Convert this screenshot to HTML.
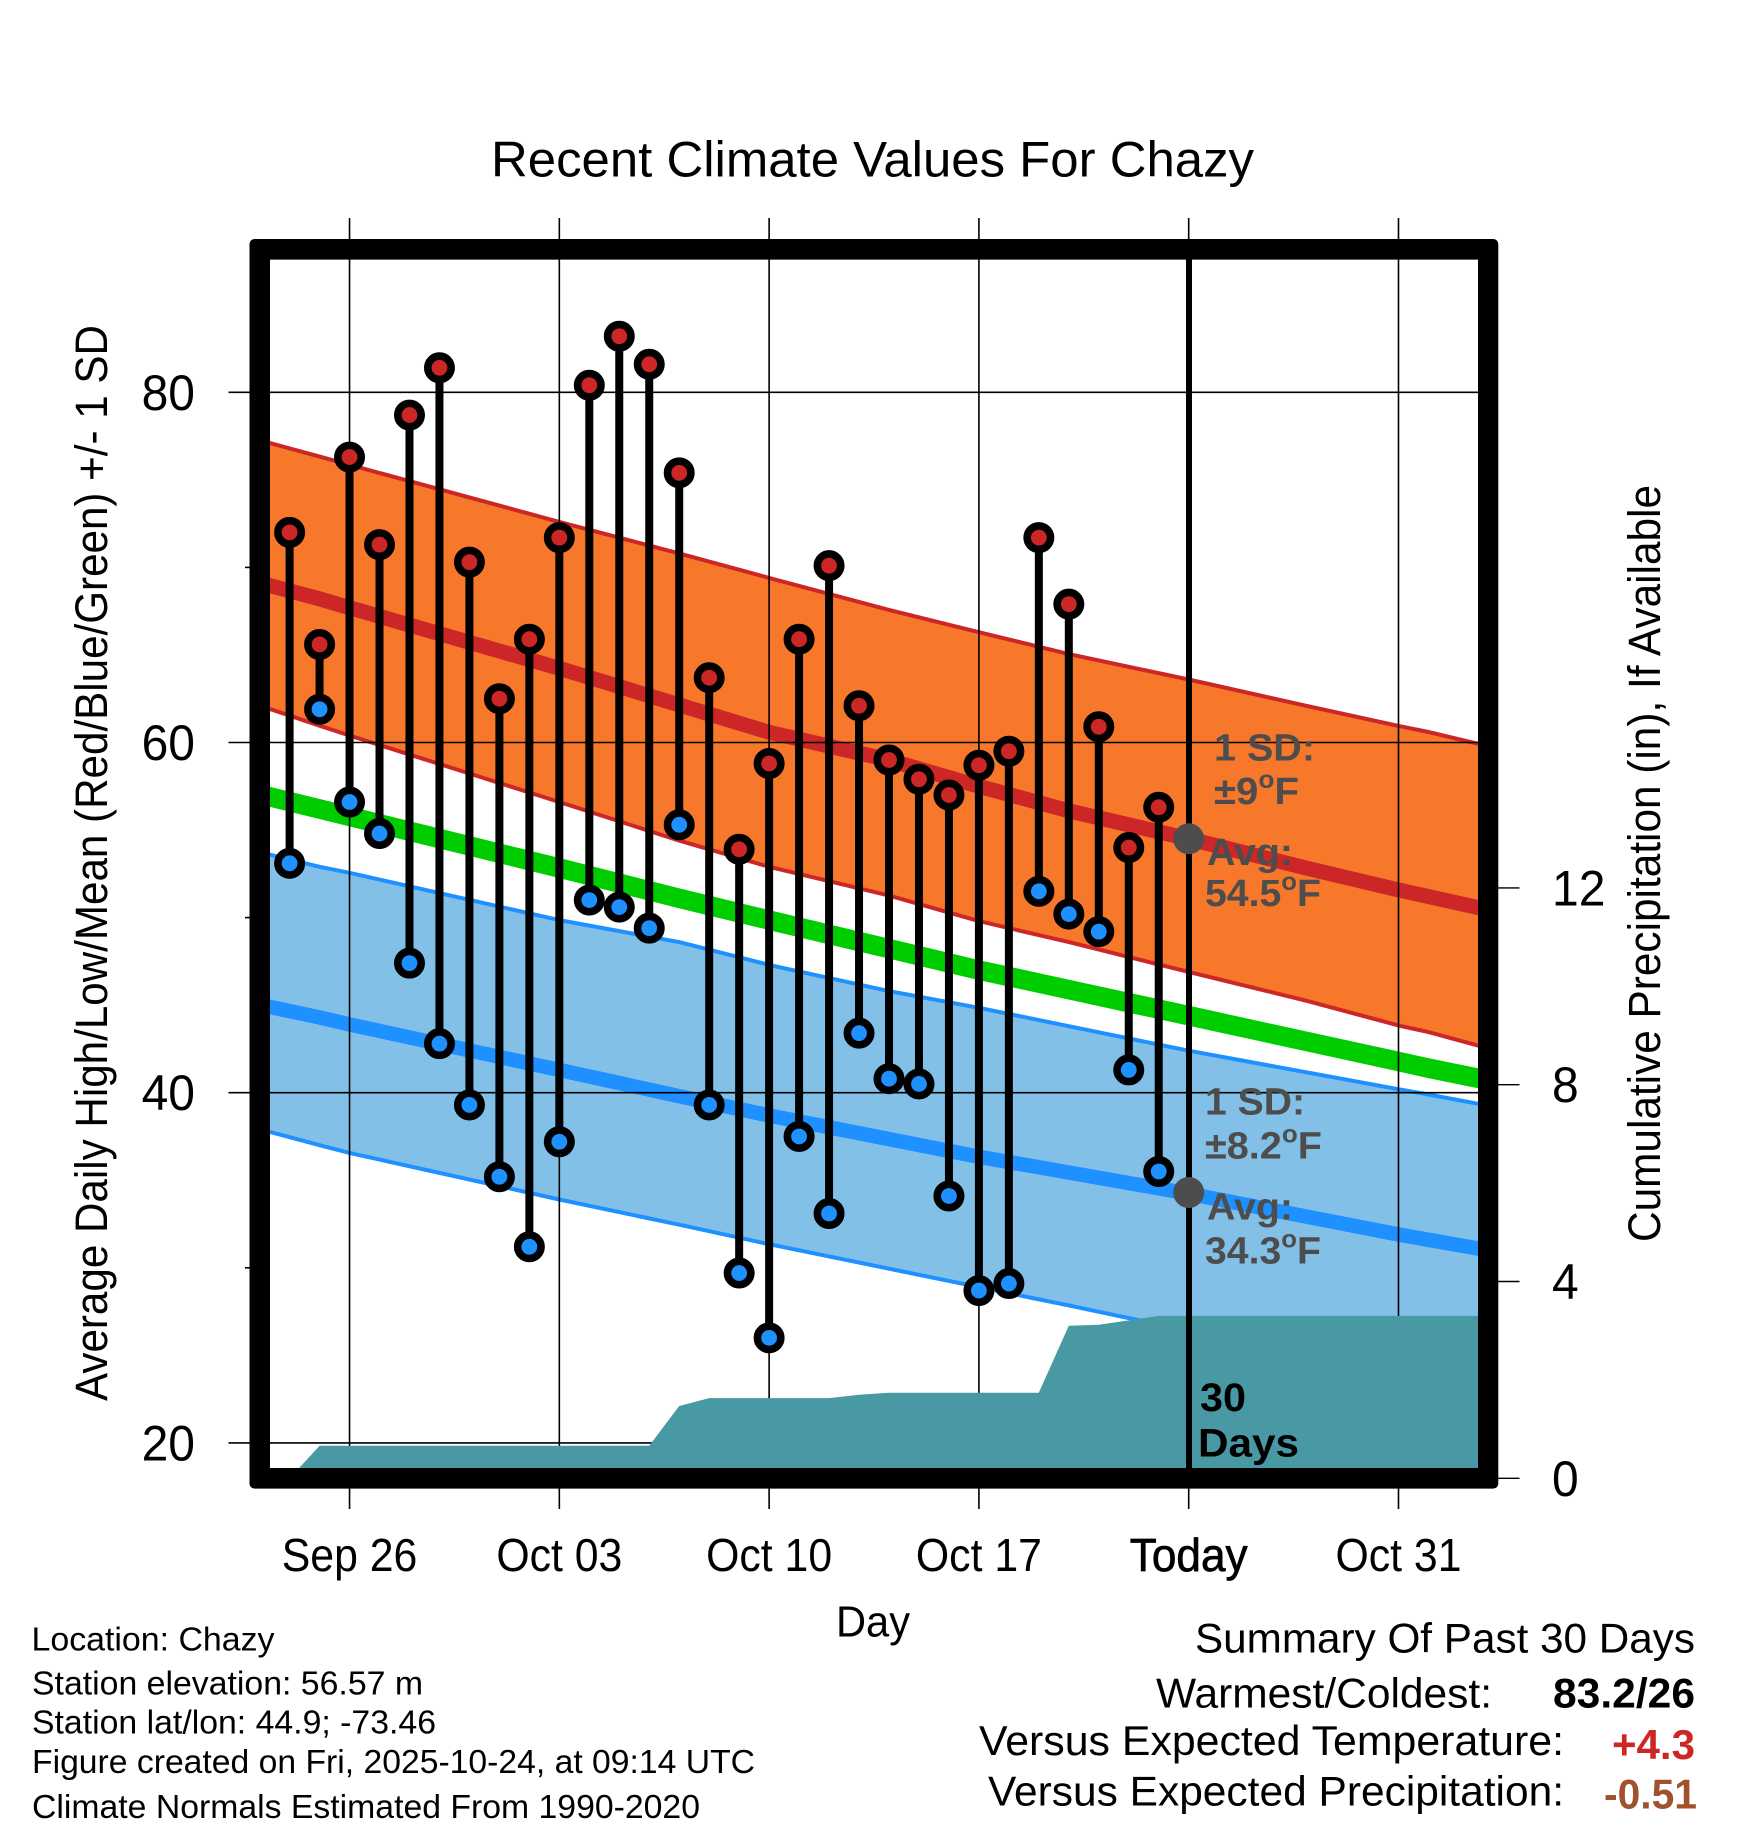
<!DOCTYPE html>
<html lang="en">
<head>
<meta charset="utf-8">
<title>Recent Climate Values For Chazy</title>
<style>
html,body{margin:0;padding:0;background:#fff;}
svg{display:block;font-family:"Liberation Sans",sans-serif;}
text{fill:#000;}
.g{font-weight:bold;font-size:38px;fill:#4d4d4d;}
.m{font-size:33.5px;}
.s{font-size:42px;}
</style>
</head>
<body>
<svg id="chart" xmlns="http://www.w3.org/2000/svg" width="1748" height="1828" viewBox="0 0 1748 1828">
  <defs><clipPath id="plot-clip"><rect x="270" y="259.5" width="1208" height="1208.5"/></clipPath></defs>
  <rect width="1748" height="1828" fill="#fff"/>
  <g id="bands" clip-path="url(#plot-clip)"></g>
  <g id="grid"></g>
  <g id="precip" clip-path="url(#plot-clip)"></g>
  <rect x="1186" y="250" width="6" height="1228" fill="#000"/>
  <g id="labels-inside">
    <text class="g" x="1214" y="760.7" textLength="101" lengthAdjust="spacingAndGlyphs">1 SD:</text>
    <text class="g" x="1214" y="804" textLength="85" lengthAdjust="spacingAndGlyphs">±9<tspan font-size="25" dy="-16">o</tspan><tspan dy="16">F</tspan></text>
    <text class="g" x="1207" y="865" textLength="86" lengthAdjust="spacingAndGlyphs">Avg:</text>
    <text class="g" x="1205" y="906" textLength="116" lengthAdjust="spacingAndGlyphs">54.5<tspan font-size="25" dy="-16">o</tspan><tspan dy="16">F</tspan></text>
    <text class="g" x="1205" y="1114.3" textLength="100" lengthAdjust="spacingAndGlyphs">1 SD:</text>
    <text class="g" x="1205" y="1158.7" textLength="117" lengthAdjust="spacingAndGlyphs">±8.2<tspan font-size="25" dy="-16">o</tspan><tspan dy="16">F</tspan></text>
    <text class="g" x="1207" y="1219.6" textLength="86" lengthAdjust="spacingAndGlyphs">Avg:</text>
    <text class="g" x="1205" y="1263.6" textLength="116" lengthAdjust="spacingAndGlyphs">34.3<tspan font-size="25" dy="-16">o</tspan><tspan dy="16">F</tspan></text>
    <text x="1200" y="1411" font-size="40" font-weight="bold" textLength="46" lengthAdjust="spacingAndGlyphs">30</text>
    <text x="1198" y="1456.5" font-size="40" font-weight="bold" textLength="101" lengthAdjust="spacingAndGlyphs">Days</text>
  </g>
  <g id="marks"></g>
  <path fill="#000" fill-rule="evenodd" d="M254.5 239H1493.3A5 5 0 0 1 1498.3 244V1483.6A5 5 0 0 1 1493.3 1488.6H254.5A5 5 0 0 1 249.5 1483.6V244A5 5 0 0 1 254.5 239ZM270 259.6V1468H1478V259.6Z"/>
  <g id="tick-labels"></g>

  <text x="491" y="176.5" font-size="50" textLength="763" lengthAdjust="spacingAndGlyphs">Recent Climate Values For Chazy</text>
  <text transform="translate(107,1401) rotate(-90)" font-size="45" textLength="1076" lengthAdjust="spacingAndGlyphs">Average Daily High/Low/Mean (Red/Blue/Green) +/- 1 SD</text>
  <text transform="translate(1660,1242) rotate(-90)" font-size="45" textLength="757" lengthAdjust="spacingAndGlyphs">Cumulative Precipitation (in), If Available</text>
  <text x="836" y="1636.7" font-size="44" textLength="74" lengthAdjust="spacingAndGlyphs">Day</text>

  <text class="m" x="31.5" y="1650.7" textLength="243" lengthAdjust="spacingAndGlyphs">Location: Chazy</text>
  <text class="m" x="32" y="1694.5" textLength="391" lengthAdjust="spacingAndGlyphs">Station elevation: 56.57 m</text>
  <text class="m" x="32" y="1733.5" textLength="404" lengthAdjust="spacingAndGlyphs">Station lat/lon: 44.9; -73.46</text>
  <text class="m" x="32" y="1773" textLength="723" lengthAdjust="spacingAndGlyphs">Figure created on Fri, 2025-10-24, at 09:14 UTC</text>
  <text class="m" x="32" y="1818" textLength="668" lengthAdjust="spacingAndGlyphs">Climate Normals Estimated From 1990-2020</text>

  <text class="s" x="1195" y="1652.7" textLength="500" lengthAdjust="spacingAndGlyphs">Summary Of Past 30 Days</text>
  <text class="s" x="1156" y="1707.7" textLength="336" lengthAdjust="spacingAndGlyphs">Warmest/Coldest:</text>
  <text class="s" x="1553" y="1707.7" font-weight="bold" textLength="142" lengthAdjust="spacingAndGlyphs">83.2/26</text>
  <text class="s" x="979" y="1755" textLength="585" lengthAdjust="spacingAndGlyphs">Versus Expected Temperature:</text>
  <text class="s" x="1612" y="1759" font-weight="bold" style="fill:#cd2626" textLength="83" lengthAdjust="spacingAndGlyphs">+4.3</text>
  <text class="s" x="988" y="1805.5" textLength="576" lengthAdjust="spacingAndGlyphs">Versus Expected Precipitation:</text>
  <text class="s" x="1604" y="1808.5" font-weight="bold" style="fill:#a0522d" textLength="93" lengthAdjust="spacingAndGlyphs">-0.51</text>
</svg>
<script>
// ---- data: day offsets count from Sep 24 (day 0) ----
const dailyHigh = [72.0,65.6,76.3,71.3,78.7,81.4,70.3,62.5,65.9,71.7,80.4,83.2,81.6,75.4,63.7,53.9,58.8,65.9,70.1,62.1,59.0,57.9,57.0,58.7,59.5,71.7,67.9,60.9,54.0,56.3];
const dailyLow = [53.1,61.9,56.6,54.8,47.4,42.8,39.3,35.2,31.2,37.2,51.0,50.6,49.4,55.3,39.3,29.7,26.0,37.5,33.1,43.4,40.8,40.5,34.1,28.7,29.1,51.5,50.2,49.2,41.3,35.5];
const precipCumulative = [0,0.66,0.66,0.66,0.66,0.66,0.66,0.66,0.66,0.66,0.66,0.66,0.66,1.47,1.63,1.63,1.63,1.63,1.63,1.70,1.74,1.74,1.74,1.74,1.74,1.74,3.10,3.12,3.21,3.30];
const normalDays = [-1.5,1,2,9,13,16,20,23,26,30,34,37,38,40.5];
const highPlusSD = [77.5,76.33,75.86,72.6,70.8,69.4,67.57,66.3,65.05,63.6,62.07,60.95,60.6,59.58];
const highNormal = [69.35,68.2,67.7,64.24,62.15,60.58,59.0,57.5,56.1,54.5,52.8,51.58,51.2,50.25];
const highMinusSD = [62.4,60.96,60.4,56.6,54.4,52.9,51.26,49.8,48.6,46.9,45.22,43.84,43.46,42.3];
const meanNormal = [57.25,56.2,55.78,52.83,51.1,49.86,48.23,47.0,45.89,44.4,42.9,41.78,41.4,40.53];
const lowPlusSD = [53.95,52.9,52.56,49.86,48.6,47.3,45.8,44.85,43.8,42.4,41.14,40.2,39.9,39.1];
const lowNormal = [45.2,44.3,43.9,41.3,39.8,38.7,37.35,36.34,35.44,34.24,32.9,31.9,31.6,30.85];
const lowMinusSD = [38.15,37.0,36.56,33.9,32.46,31.35,29.95,28.9,27.85,26.4,25.0,24.0,23.7,22.8];
const todayDay = 30;
const todayHighNormal = 54.5;
const todayLowNormal = 34.3;
const xTickDays = [2,9,16,23,30,37];
const xTickLabels = ['Sep 26','Oct 03','Oct 10','Oct 17','Today','Oct 31'];
const yMajorTicks = [80,60,40,20];
const yMinorTicks = [70,50,30];
const precipTicks = [0,4,8,12];

// ---- axis functions ----
const NS = 'http://www.w3.org/2000/svg';
const xScale = d => 289.6 + 29.97 * d;
const yScale = t => 392.3 + (80 - t) * 17.51;
const pScale = p => 1478.3 - 49.2 * p;
const mk = (parent, tag, attrs) => {
  const el = document.createElementNS(NS, tag);
  for (const k in attrs) el.setAttribute(k, attrs[k]);
  parent.appendChild(el);
  return el;
};
const pts = (days, vals) => days.map((d, i) => xScale(d).toFixed(1) + ',' + yScale(vals[i]).toFixed(1));
const bandsG = document.getElementById('bands');
const gridG = document.getElementById('grid');
const precipG = document.getElementById('precip');
const marksG = document.getElementById('marks');
const labelsG = document.getElementById('tick-labels');

// ---- bands ----
const upperBand = mk(bandsG, 'polygon', {points: pts(normalDays, highPlusSD).concat(pts(normalDays, highMinusSD).reverse()).join(' '), fill: '#f7772b'});


const lowerBand = mk(bandsG, 'polygon', {points: pts(normalDays, lowPlusSD).concat(pts(normalDays, lowMinusSD).reverse()).join(' '), fill: '#82c0e8'});


const lineSpecs = [
  ['high-plus-sd-line', highPlusSD, '#cd2626', 4],
  ['high-minus-sd-line', highMinusSD, '#cd2626', 4],
  ['low-plus-sd-line', lowPlusSD, '#1e90ff', 4],
  ['low-minus-sd-line', lowMinusSD, '#1e90ff', 4],
  ['high-normal-line', highNormal, '#cd2626', 15],
  ['low-normal-line', lowNormal, '#1e90ff', 14.5],
  ['mean-normal-line', meanNormal, '#00cd00', 19.5]
];
lineSpecs.forEach(spec => {
  const line = mk(bandsG, 'polyline', {points: pts(normalDays, spec[1]).join(' '), fill: 'none', stroke: spec[2], 'stroke-width': spec[3]});
  
  
});

// ---- grid and ticks ----
xTickDays.forEach(d => {
  const line = mk(gridG, 'line', {x1: xScale(d), x2: xScale(d), y1: 218, y2: 1509, stroke: '#000', 'stroke-width': 1.6});
  
  
});
yMajorTicks.forEach(t => {
  const line = mk(gridG, 'line', {x1: 228.5, x2: 1478, y1: yScale(t), y2: yScale(t), stroke: '#000', 'stroke-width': 1.6});
  
  
});
yMinorTicks.forEach(t => {
  const line = mk(gridG, 'line', {x1: 245, x2: 255, y1: yScale(t), y2: yScale(t), stroke: '#000', 'stroke-width': 1.6});
  
  
});
precipTicks.forEach(p => {
  const line = mk(gridG, 'line', {x1: 1495, x2: 1519.5, y1: pScale(p), y2: pScale(p), stroke: '#000', 'stroke-width': 1.4});
  
  
});

// ---- precipitation ----
const precipPoints = precipCumulative.map((p, i) => xScale(i).toFixed(1) + ',' + pScale(p).toFixed(1));
precipPoints.push(xScale(41).toFixed(1) + ',' + pScale(precipCumulative[precipCumulative.length - 1]).toFixed(1));
precipPoints.push(xScale(41).toFixed(1) + ',' + pScale(0).toFixed(1));
const precipArea = mk(precipG, 'polygon', {points: precipPoints.join(' '), fill: '#4899a3'});



// ---- today's normals ----
[todayHighNormal, todayLowNormal].forEach(t => {
  const dot = mk(marksG, 'circle', {cx: xScale(todayDay), cy: yScale(t), r: 15.5, fill: '#4d4d4d'});
  
  
});

// ---- daily high / low ----
dailyHigh.forEach((h, i) => {
  const stem = mk(marksG, 'line', {x1: xScale(i), x2: xScale(i), y1: yScale(h), y2: yScale(dailyLow[i]), stroke: '#000', 'stroke-width': 8});
  
  
  const hi = mk(marksG, 'circle', {cx: xScale(i), cy: yScale(h), r: 11.7, fill: '#cd2626', stroke: '#000', 'stroke-width': 7.6});
  
  
  const lo = mk(marksG, 'circle', {cx: xScale(i), cy: yScale(dailyLow[i]), r: 11.7, fill: '#1e90ff', stroke: '#000', 'stroke-width': 7.6});
  
  
});

// ---- tick labels ----
xTickLabels.forEach((lab, i) => {
  const sx = lab === 'Today' ? 0.96 : 0.93;
  const attrs = {transform: 'translate(' + xScale(xTickDays[i]) + ',1571) scale(' + sx + ',1)', 'text-anchor': 'middle', 'font-size': 46};
  if (lab === 'Today') { attrs.stroke = '#000'; attrs['stroke-width'] = 0.7; }
  const t = mk(labelsG, 'text', attrs);
  t.textContent = lab;
  
  
});
yMajorTicks.forEach(v => {
  const t = mk(labelsG, 'text', {transform: 'translate(195,' + (yScale(v) + 17.5) + ') scale(0.96,1)', 'text-anchor': 'end', 'font-size': 50});
  t.textContent = v;
  
  
});
precipTicks.forEach(v => {
  const t = mk(labelsG, 'text', {transform: 'translate(1552,' + (pScale(v) + 17.5) + ') scale(0.96,1)', 'font-size': 50});
  t.textContent = v;
  
  
});
</script>
</body>
</html>
